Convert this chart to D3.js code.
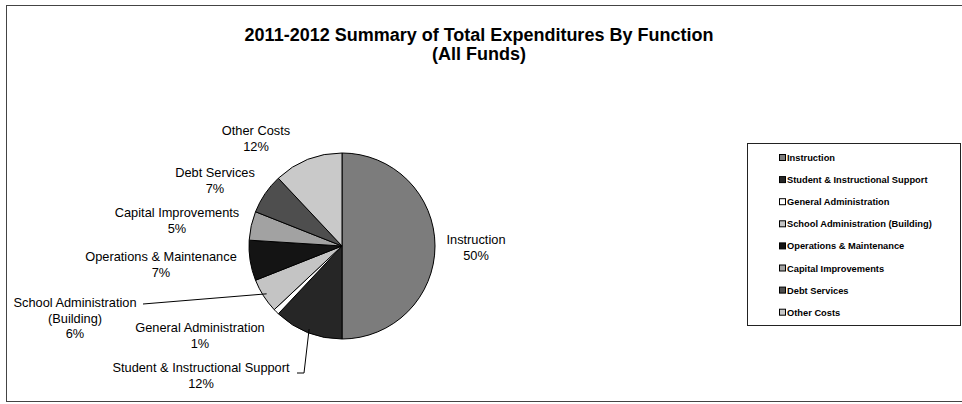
<!DOCTYPE html>
<html><head><meta charset="utf-8">
<script src="https://cdn.jsdelivr.net/npm/d3@7"></script>
<style>
html,body{margin:0;padding:0;background:#fff;}
svg text{font-family:"Liberation Sans",Arial,sans-serif;fill:#000;}
</style></head>
<body>
<svg id="chart" width="962" height="404"></svg>
<script>
// ---- data ----
const categories = ["Instruction","Student & Instructional Support","General Administration","School Administration (Building)","Operations & Maintenance","Capital Improvements","Debt Services","Other Costs"];
const values = [50, 12, 1, 6, 7, 5, 7, 12];
const labelLines = [["Instruction","50%"],["Student & Instructional Support","12%"],["General Administration","1%"],["School Administration","(Building)","6%"],["Operations & Maintenance","7%"],["Capital Improvements","5%"],["Debt Services","7%"],["Other Costs","12%"]];
const fills = ["#7c7c7c","#262626","#ffffff","#c4c4c4","#141414","#a2a2a2","#4e4e4e","#c9c9c9"];
const titleLines = ["2011-2012 Summary of Total Expenditures By Function","(All Funds)"];

// ---- layout ----
const W = 962, H = 404;
const cx = 342, cy = 246, R = 93;
// label anchor (center x, first baseline y) per slice
const labelPos = [[476,244],[201,372],[200,332],[75,307],[161,261],[177,217],[215,177],[256,135]];
const leader = {1: [[297,373],[304,373]], 3: [[143,304]]};

const svg = d3.select("#chart");

// outer frame
svg.append("rect").attr("x",6.5).attr("y",5.5).attr("width",970).attr("height",396)
  .attr("fill","none").attr("stroke","#444").attr("stroke-width",1);

// title
const title = svg.append("text").attr("text-anchor","middle").attr("font-weight","bold").attr("font-size",18);
titleLines.forEach((t,i)=> title.append("tspan").attr("x",479).attr("y",41 + i*19).text(t));

// pie
const data = categories.map((c,i)=>({cat:c, value:values[i], i}));
const pie = d3.pie().value(d=>d.value).sort(null);
const arcs = pie(data);
const arc = d3.arc().innerRadius(0).outerRadius(R);
const edgeArc = d3.arc().innerRadius(R).outerRadius(R);

const g = svg.append("g").attr("transform",`translate(${cx},${cy})`);
g.selectAll("path").data(arcs).join("path")
  .attr("d",arc).attr("fill",d=>fills[d.data.i])
  .attr("stroke","#000").attr("stroke-width",1).attr("stroke-linejoin","round");

// labels
arcs.forEach(a=>{
  const i = a.data.i;
  const [lx,ly] = labelPos[i];
  const t = svg.append("text").attr("text-anchor","middle").attr("font-size",12.8);
  labelLines[i].forEach((s,k)=> t.append("tspan").attr("x",lx).attr("y",ly + k*15.5).text(s));
  if (leader[i]) {
    const [ex,ey] = edgeArc.centroid(a);
    const pts = leader[i].concat([[cx+ex*0.96, cy+ey*0.96]]);
    svg.append("path").attr("d",d3.line()(pts)).attr("fill","none").attr("stroke","#000").attr("stroke-width",1);
  }
});

// legend
const lg = svg.append("g");
lg.append("rect").attr("x",747.5).attr("y",143.5).attr("width",213).attr("height",182)
  .attr("fill","#fff").attr("stroke","#222").attr("stroke-width",1);
const ly0 = 158, lstep = 22.1;
categories.forEach((c,i)=>{
  const y = ly0 + i*lstep;
  lg.append("rect").attr("x",779.5).attr("y",y-3.5).attr("width",6).attr("height",6)
    .attr("fill",fills[i]).attr("stroke","#000").attr("stroke-width",1);
  lg.append("text").attr("x",787).attr("y",y+3).attr("font-size",9.3).attr("font-weight","bold").text(c);
});
</script>
</body></html>
